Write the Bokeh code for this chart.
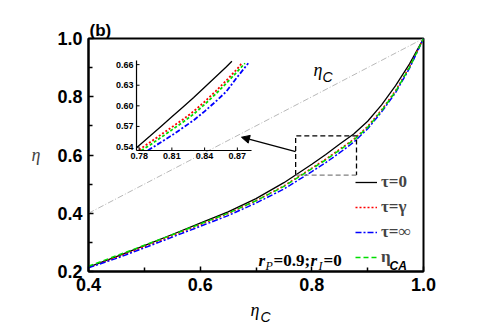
import numpy as np
from bokeh.plotting import figure
from bokeh.models import (Range1d, FixedTicker, PrintfTickFormatter, Legend, LegendItem,
                          Label, Arrow, NormalHead)
from bokeh.core.properties import value
from bokeh.embed import file_html
from bokeh.resources import INLINE

# ---------------- data ----------------
eta_c = [0.40, 0.45, 0.50, 0.55, 0.60, 0.65, 0.70, 0.75, 0.80, 0.825, 0.85, 0.875, 0.90, 0.925, 0.95, 0.975, 1.00]
eta_tau0 = [0.215, 0.251, 0.289, 0.327, 0.366, 0.405, 0.450, 0.505, 0.568, 0.602, 0.638, 0.672, 0.716, 0.772, 0.838, 0.913, 1.0]
eta_taug = [0.214, 0.248, 0.285, 0.323, 0.361, 0.399, 0.443, 0.494, 0.555, 0.586, 0.620, 0.654, 0.698, 0.755, 0.821, 0.903, 1.0]
eta_ca = [0.218, 0.254, 0.290, 0.326, 0.363, 0.400, 0.443, 0.492, 0.553, 0.583, 0.617, 0.651, 0.695, 0.752, 0.818, 0.901, 1.0]
eta_taui = [0.213, 0.245, 0.281, 0.318, 0.355, 0.392, 0.435, 0.483, 0.543, 0.574, 0.608, 0.644, 0.690, 0.748, 0.814, 0.898, 1.0]

diag_x = [0.4, 1.0]
diag_y = [0.4, 1.0]

# inset data
in_x_tau0 = [0.7776, 0.79, 0.80, 0.81, 0.82, 0.83, 0.84, 0.85, 0.86, 0.865]
in_y_tau0 = [0.539, 0.556, 0.570, 0.584, 0.598, 0.612, 0.627, 0.642, 0.657, 0.665]
in_x_taug = [0.780, 0.79, 0.80, 0.81, 0.82, 0.83, 0.84, 0.85, 0.86, 0.87, 0.8745]
in_y_taug = [0.536, 0.547, 0.558, 0.569, 0.580, 0.592, 0.606, 0.621, 0.637, 0.654, 0.663]
in_x_ca = [0.782, 0.79, 0.80, 0.81, 0.82, 0.83, 0.84, 0.85, 0.86, 0.87, 0.877]
in_y_ca = [0.535, 0.543, 0.554, 0.565, 0.576, 0.588, 0.602, 0.617, 0.633, 0.650, 0.662]
in_x_taui = [0.788, 0.79, 0.80, 0.81, 0.82, 0.83, 0.84, 0.85, 0.86, 0.87, 0.880]
in_y_taui = [0.535, 0.537, 0.547, 0.557, 0.568, 0.579, 0.592, 0.606, 0.621, 0.642, 0.662]

x_ticks = [0.4, 0.6, 0.8, 1.0]
x_minor = [0.5, 0.7, 0.9]
y_ticks = [0.2, 0.4, 0.6, 0.8, 1.0]
y_minor = [0.3, 0.5, 0.7, 0.9]

in_x_ticks = [0.78, 0.81, 0.84, 0.87]
in_x_labels = ["0.78", "0.81", "0.84", "0.87"]
in_y_ticks = [0.54, 0.57, 0.60, 0.63, 0.66]
in_y_labels = ["0.54", "0.57", "0.60", "0.63", "0.66"]
in_lim_x = [0.7776, 0.883]
in_lim_y = [0.535, 0.666]

# zoom box and arrow (main data coords)
box_x = [0.771, 0.880]
box_y = [0.531, 0.666]
arrow_x = [0.771, 0.674]
arrow_y = [0.612, 0.661]

# ---------------- figure ----------------
SANS = "Liberation Sans"
SERIF = "Liberation Serif"

p = figure(width=491, height=327, x_range=Range1d(0.4, 1.0), y_range=Range1d(0.2, 1.0),
           output_backend="svg", toolbar_location=None,
           min_border_left=88, min_border_right=68, min_border_top=38, min_border_bottom=56)
p.xgrid.visible = False
p.ygrid.visible = False
p.outline_line_color = "black"
p.outline_line_width = 2
p.outline_line_alpha = 1.0
p.background_fill_color = "white"
p.border_fill_color = "white"

for ax, ticks, minor in ((p.xaxis[0], x_ticks, x_minor), (p.yaxis[0], y_ticks, y_minor)):
    ax.ticker = FixedTicker(ticks=ticks, minor_ticks=minor)
    ax.formatter = PrintfTickFormatter(format="%.1f")
    ax.axis_line_width = 2
    ax.axis_line_color = "black"
    ax.major_tick_in = 5
    ax.major_tick_out = 0
    ax.minor_tick_in = 4
    ax.minor_tick_out = 0
    ax.major_tick_line_width = 1.5
    ax.minor_tick_line_width = 1.5
    ax.major_label_text_font = SANS
    ax.major_label_text_font_style = "bold"
    ax.major_label_text_font_size = "18px"
    ax.major_label_text_color = "black"
    ax.major_label_standoff = 6

p.yaxis[0].axis_label = "η"
p.yaxis[0].axis_label_orientation = "horizontal"
p.yaxis[0].axis_label_text_font = SERIF
p.yaxis[0].axis_label_text_font_style = "italic"
p.yaxis[0].axis_label_text_font_size = "18px"
p.yaxis[0].axis_label_standoff = 14

# main curves
p.line(diag_x, diag_y, line_color="#b8b8b8", line_width=1, line_dash="6 2 1 2")
r_t0 = p.line(eta_c, eta_tau0, line_color="black", line_width=1.3)
r_tg = p.line(eta_c, eta_taug, line_color="#ff0000", line_width=1.5, line_dash="2 2")
r_ti = p.line(eta_c, eta_taui, line_color="#0000ff", line_width=1.5, line_dash="6 2 2 2")
r_ca = p.line(eta_c, eta_ca, line_color="#00dd00", line_width=1.5, line_dash="5 3")

# dashed zoom box
p.multi_line([[box_x[0], box_x[0], box_x[1], box_x[1]]],
             [[box_y[0], box_y[1], box_y[1], box_y[0]]],
             line_color="black", line_width=1.3, line_dash="5 3")
p.line(box_x, [box_y[0], box_y[0]], line_color="#808080", line_width=1.3, line_dash="5 3")

p.add_layout(Arrow(end=NormalHead(size=8, fill_color="black", line_color="black"),
                   x_start=arrow_x[0], y_start=arrow_y[0], x_end=arrow_x[1], y_end=arrow_y[1],
                   line_color="black", line_width=1.3))

# ---------------- inset (extra ranges) ----------------
ins_left, ins_right, ins_bottom, ins_top = 0.486, 0.692, 0.6155, 0.9245  # placement in main coords
sx = (in_lim_x[1] - in_lim_x[0]) / (ins_right - ins_left)
sy = (in_lim_y[1] - in_lim_y[0]) / (ins_top - ins_bottom)
p.extra_x_ranges = {"ix": Range1d(in_lim_x[0] + (0.4 - ins_left) * sx, in_lim_x[0] + (1.0 - ins_left) * sx)}
p.extra_y_ranges = {"iy": Range1d(in_lim_y[0] + (0.2 - ins_bottom) * sy, in_lim_y[0] + (1.0 - ins_bottom) * sy)}
kw = dict(x_range_name="ix", y_range_name="iy")

p.line(in_x_tau0, in_y_tau0, line_color="black", line_width=1.3, **kw)
p.line(in_x_taug, in_y_taug, line_color="#ff0000", line_width=1.8, line_dash="2 2", **kw)
p.line(in_x_ca, in_y_ca, line_color="#00dd00", line_width=1.8, line_dash="3 2", **kw)
p.line(in_x_taui, in_y_taui, line_color="#0000ff", line_width=1.8, line_dash="5 2 2 2", **kw)

p.segment(x0=[in_lim_x[0], in_lim_x[0]], y0=[in_lim_y[0], in_lim_y[0]],
          x1=[in_lim_x[0], in_lim_x[1]], y1=[in_lim_y[1], in_lim_y[0]],
          line_color="black", line_width=1.2, **kw)
p.ray(x=[in_lim_x[0]] * len(in_y_ticks), y=in_y_ticks, length=3, length_units="screen",
      angle=0, line_color="black", line_width=1, **kw)
p.ray(x=in_x_ticks, y=[in_lim_y[0]] * len(in_x_ticks), length=3, length_units="screen",
      angle=np.pi / 2, line_color="black", line_width=1, **kw)
p.text(x=[in_lim_x[0]] * len(in_y_ticks), y=in_y_ticks, text=in_y_labels, x_offset=-3,
       text_align="right", text_baseline="middle", text_font=value(SANS),
       text_font_style="bold", text_font_size="9px", text_color="black", **kw)
p.text(x=in_x_ticks, y=[in_lim_y[0]] * len(in_x_ticks), text=in_x_labels, y_offset=3,
       text_align="center", text_baseline="top", text_font=value(SANS),
       text_font_style="bold", text_font_size="9px", text_color="black", **kw)

# ---------------- legend ----------------
legend = Legend(items=[LegendItem(label="τ=0", renderers=[r_t0]),
                       LegendItem(label="τ=γ", renderers=[r_tg]),
                       LegendItem(label="τ=∞", renderers=[r_ti]),
                       LegendItem(label="η", renderers=[r_ca])],
                location=(267, 4), glyph_width=22, glyph_height=20, label_height=20,
                spacing=5, padding=0, margin=0, label_standoff=4,
                label_text_font=SERIF, label_text_font_style="bold", label_text_font_size="17px",
                border_line_alpha=0, background_fill_alpha=0)
p.add_layout(legend)

# ---------------- texts ----------------
def lab(x, y, t, font, style, size, units="data", place="center"):
    p.add_layout(Label(x=x, y=y, text=t, text_font=font, text_font_style=style,
                       text_font_size=size, text_color="black", text_baseline="alphabetic",
                       text_align="left", x_units=units, y_units=units), place)

lab(0.9391, 0.2172, "CA", SANS, "bold italic", "12px")
lab(0.8030, 0.8915, "η", SERIF, "italic", "18px")
lab(0.8191, 0.8661, "C", SANS, "italic", "14px")
lab(0.7045, 0.2378, "r", SERIF, "bold italic", "17px")
lab(0.7170, 0.2206, "P", SERIF, "italic", "12px")
lab(0.7313, 0.2378, "=0.9;", SERIF, "bold", "17px")
lab(0.7976, 0.2378, "r", SERIF, "bold italic", "17px")
lab(0.8119, 0.2206, "I", SERIF, "italic", "12px")
lab(0.8209, 0.2378, "=0", SERIF, "bold", "17px")
# texts outside the frame (canvas pixels, placed in side panels so they are not clipped)
lab(89, 30, "(b)", SANS, "bold", "17px", units="canvas", place="above")
lab(250, 309, "η", SERIF, "italic", "18px", units="canvas", place="right")
lab(260, 316, "C", SANS, "italic", "14px", units="canvas", place="right")

open("out.html", "w").write(file_html(p, INLINE))
